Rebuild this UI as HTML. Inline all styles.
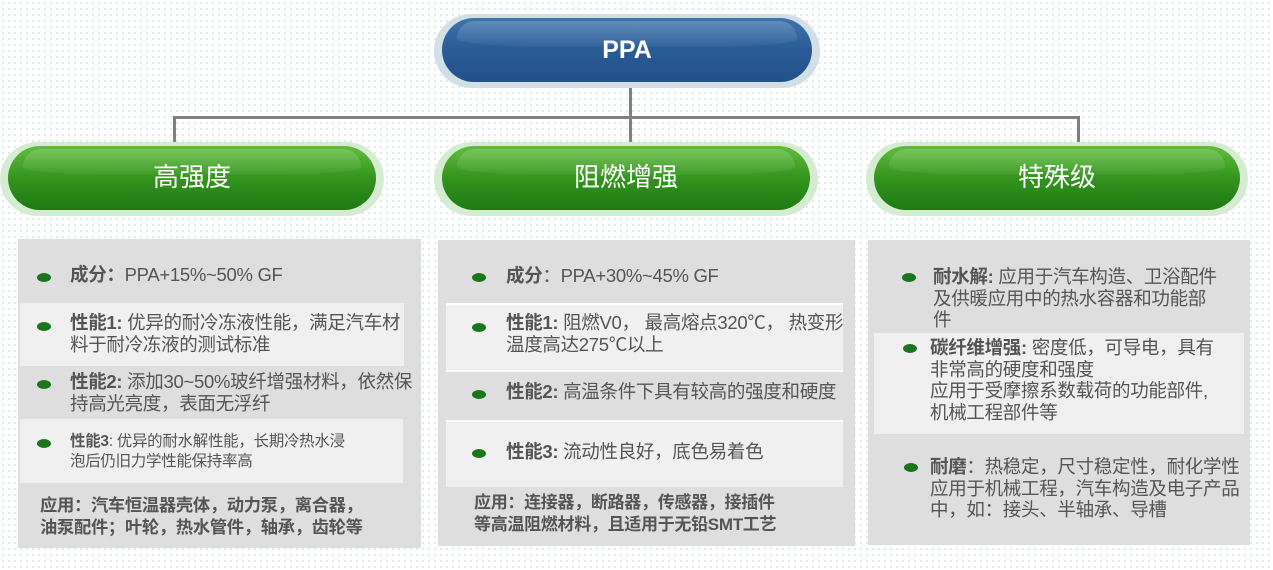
<!DOCTYPE html>
<html><head><meta charset="utf-8"><style>
body{margin:0;width:1273px;height:570px;position:relative;overflow:hidden;background:#fff;
background-image:radial-gradient(#cfe6e6 0.8px,transparent 1px);background-size:6px 6px;
font-family:"Liberation Sans","Noto Sans CJK SC",sans-serif;color:#555}
.halo{position:absolute;border-radius:40px}
.pill{position:absolute;border-radius:34px;color:#fff;text-align:center;overflow:hidden}
.pill:after{content:"";position:absolute;left:4%;right:4%;top:3px;height:40%;border-radius:30px 30px 50% 50%/30px 30px 14px 14px;background:linear-gradient(rgba(255,255,255,.18),rgba(255,255,255,.03))}
.box{position:absolute;background:#dedede}
.band{position:absolute;background:#f0f0f0}
.dot{position:absolute;width:14px;height:9px;border-radius:50%;background:#1a761a}
.t{position:absolute;font-size:18.5px;line-height:21.5px;white-space:nowrap;color:#555;letter-spacing:-0.3px}
b{color:#555}
.ln{position:absolute;background:#808080}
</style></head><body>
<div class="ln" style="left:629px;top:82px;width:3px;height:64px"></div>
<div class="ln" style="left:173px;top:116px;width:907px;height:3px"></div>
<div class="ln" style="left:173px;top:116px;width:3px;height:30px"></div>
<div class="ln" style="left:1077px;top:116px;width:3px;height:30px"></div>

<div class="halo" style="left:434px;top:14px;width:386px;height:74px;background:#d3dfe7"></div>
<div class="pill" style="left:442px;top:18px;width:370px;height:64px;background:linear-gradient(#3f74ad,#2a5b95 50%,#22518a);font:bold 25px/64px 'Liberation Sans',sans-serif">PPA</div>

<div class="halo" style="left:0;top:142px;width:384px;height:74px;background:#d6ecd2"></div>
<div class="pill" style="left:8px;top:146px;width:368px;height:64px;background:linear-gradient(#5fbd3d,#35941f 50%,#1c7a12);font-size:26px;line-height:62px">高强度</div>
<div class="halo" style="left:434px;top:142px;width:384px;height:74px;background:#d6ecd2"></div>
<div class="pill" style="left:442px;top:146px;width:368px;height:64px;background:linear-gradient(#5fbd3d,#35941f 50%,#1c7a12);font-size:26px;line-height:62px">阻燃增强</div>
<div class="halo" style="left:866px;top:142px;width:382px;height:74px;background:#d6ecd2"></div>
<div class="pill" style="left:874px;top:146px;width:366px;height:64px;background:linear-gradient(#5fbd3d,#35941f 50%,#1c7a12);font-size:26px;line-height:62px">特殊级</div>

<div class="box" style="left:18px;top:239px;width:403px;height:309px"></div>
<div class="band" style="left:20px;top:303px;width:384px;height:63px"></div>
<div class="band" style="left:20px;top:419px;width:383px;height:64px"></div>
<div class="dot" style="left:37px;top:273px"></div>
<div class="dot" style="left:37px;top:322px"></div>
<div class="dot" style="left:37px;top:380px"></div>
<div class="dot" style="left:37px;top:439px"></div>
<div class="t" style="left:70px;top:264px"><b>成分：</b>PPA+15%~50% GF</div>
<div class="t" style="left:70px;top:312px"><b>性能1:</b> 优异的耐冷冻液性能，满足汽车材<br>料于耐冷冻液的测试标准</div>
<div class="t" style="left:70px;top:371px"><b>性能2:</b> 添加30~50%玻纤增强材料，依然保<br>持高光亮度，表面无浮纤</div>
<div class="t" style="left:70px;top:432px;font-size:15.5px;line-height:20px"><b>性能3</b>: 优异的耐水解性能，长期冷热水浸<br>泡后仍旧力学性能保持率高</div>
<div class="t" style="left:40px;top:495px;font-weight:bold;font-size:17.3px">应用：汽车恒温器壳体，动力泵，离合器，<br>油泵配件；叶轮，热水管件，轴承，齿轮等</div>

<div class="box" style="left:438px;top:240px;width:417px;height:306px"></div>
<div class="band" style="left:446px;top:303px;width:397px;height:65px;border-top:2px solid #fff;border-bottom:2px solid #fff"></div>
<div class="band" style="left:446px;top:420px;width:397px;height:65px;border-top:2px solid #fff"></div>
<div class="dot" style="left:472px;top:273px"></div>
<div class="dot" style="left:472px;top:323px"></div>
<div class="dot" style="left:472px;top:390px"></div>
<div class="dot" style="left:472px;top:449px"></div>
<div class="t" style="left:506px;top:265px"><b>成分</b>：PPA+30%~45% GF</div>
<div class="t" style="left:506px;top:312px"><b>性能1:</b> 阻燃V0， 最高熔点320℃， 热变形<br>温度高达275℃以上</div>
<div class="t" style="left:506px;top:381px"><b>性能2:</b> 高温条件下具有较高的强度和硬度</div>
<div class="t" style="left:506px;top:441px"><b>性能3:</b> 流动性良好，底色易着色</div>
<div class="t" style="left:474px;top:492px;font-weight:bold;font-size:17px">应用：连接器，断路器，传感器，接插件<br>等高温阻燃材料，且适用于无铅SMT工艺</div>

<div class="box" style="left:868px;top:240px;width:382px;height:305px"></div>
<div class="band" style="left:874px;top:333px;width:370px;height:101px"></div>
<div class="dot" style="left:902px;top:273px"></div>
<div class="dot" style="left:903px;top:344px"></div>
<div class="dot" style="left:904px;top:463px"></div>
<div class="t" style="left:933px;top:266px"><b>耐水解:</b> 应用于汽车构造、卫浴配件<br>及供暖应用中的热水容器和功能部<br>件</div>
<div class="t" style="left:930px;top:337px"><b>碳纤维增强:</b> 密度低，可导电，具有<br>非常高的硬度和强度<br>应用于受摩擦系数载荷的功能部件,<br>机械工程部件等</div>
<div class="t" style="left:930px;top:456px"><b>耐磨</b>：热稳定，尺寸稳定性，耐化学性<br>应用于机械工程，汽车构造及电子产品<br>中，如：接头、半轴承、导槽</div>
</body></html>
